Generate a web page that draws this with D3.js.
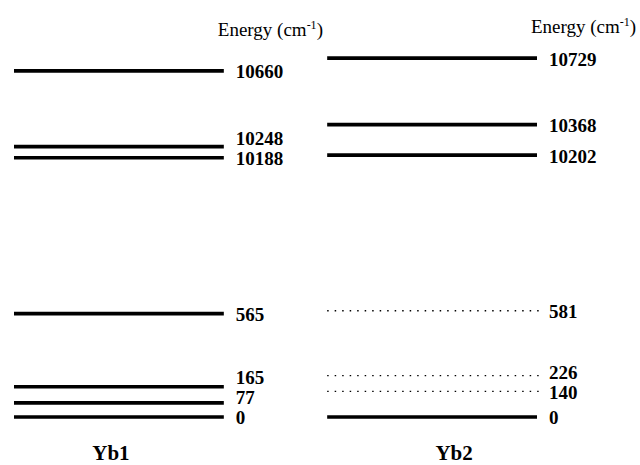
<!DOCTYPE html>
<html>
<head>
<meta charset="utf-8">
<script src="https://cdn.jsdelivr.net/npm/d3@7"></script>
<style>
  body { margin: 0; background: #fff; }
  text { font-family: "Liberation Serif", "Times New Roman", serif; }
</style>
</head>
<body>
<script>
// energy levels (cm-1) for the two Yb sites
var samples = ["Yb1", "Yb2"];
var yb1Levels = [0, 77, 165, 565, 10188, 10248, 10660];
var yb2Levels = [0, 140, 226, 581, 10202, 10368, 10729];
// observed levels are drawn solid, the others dotted
var yb1Observed = [true, true, true, true, true, true, true];
var yb2Observed = [true, false, false, false, true, true, true];

var levels = {Yb1: yb1Levels, Yb2: yb2Levels};
var observed = {Yb1: yb1Observed, Yb2: yb2Observed};

var width = 640, height = 465;

var svg = d3.select("body").append("svg")
    .attr("width", width)
    .attr("height", height);

// broken energy axis: ground multiplet below, excited multiplet above
var y = d3.scaleLinear()
    .domain([0, 600, 10100, 10800])
    .range([417, 307.2, 173.9, 45.1]);

var x = d3.scaleBand()
    .domain(samples)
    .range([14, 537])
    .paddingInner(0.33);

var labelGap = 20;

// labels go up when they crowd the one below
function spread(ys) {
    var out = ys.slice();
    for (var k = 1; k < out.length; k++) {
        out[k] = Math.min(out[k], out[k - 1] - labelGap);
    }
    return out;
}

samples.forEach(function(s) {
    var vals = levels[s];
    var x0 = x(s), x1 = x(s) + x.bandwidth();
    var g = svg.append("g");

    g.selectAll("line")
        .data(vals)
        .enter().append("line")
        .attr("x1", x0)
        .attr("x2", function(d, i) { return observed[s][i] ? x1 : x1 + 4; })
        .attr("y1", function(d) { return y(d); })
        .attr("y2", function(d) { return y(d); })
        .attr("stroke", "#000")
        .attr("stroke-width", function(d, i) { return observed[s][i] ? 3.6 : 1.4; })
        .attr("stroke-dasharray", function(d, i) { return observed[s][i] ? null : "1.5,6"; });

    var ly = spread(vals.map(function(d) { return y(d) + 1; }));

    g.selectAll("text.lvl")
        .data(vals)
        .enter().append("text")
        .attr("class", "lvl")
        .attr("x", x1 + 12)
        .attr("y", function(d, i) { return ly[i]; })
        .attr("dy", "0.34em")
        .attr("font-size", 19)
        .attr("font-weight", "bold")
        .text(function(d) { return d; });

    var t = svg.append("text")
        .attr("x", x1 - 6)
        .attr("y", s == "Yb1" ? 36 : 33)
        .attr("font-size", 19);
    t.append("tspan").text("Energy (cm");
    t.append("tspan").attr("font-size", 12).attr("dy", -7).text("-1");
    t.append("tspan").attr("dy", 7).text(")");

    svg.append("text")
        .attr("x", x0 + x.bandwidth() / 2 + (s == "Yb1" ? -8 : 22))
        .attr("y", 460)
        .attr("text-anchor", "middle")
        .attr("font-size", 21)
        .attr("font-weight", "bold")
        .text(s);
});
</script>
</body>
</html>
